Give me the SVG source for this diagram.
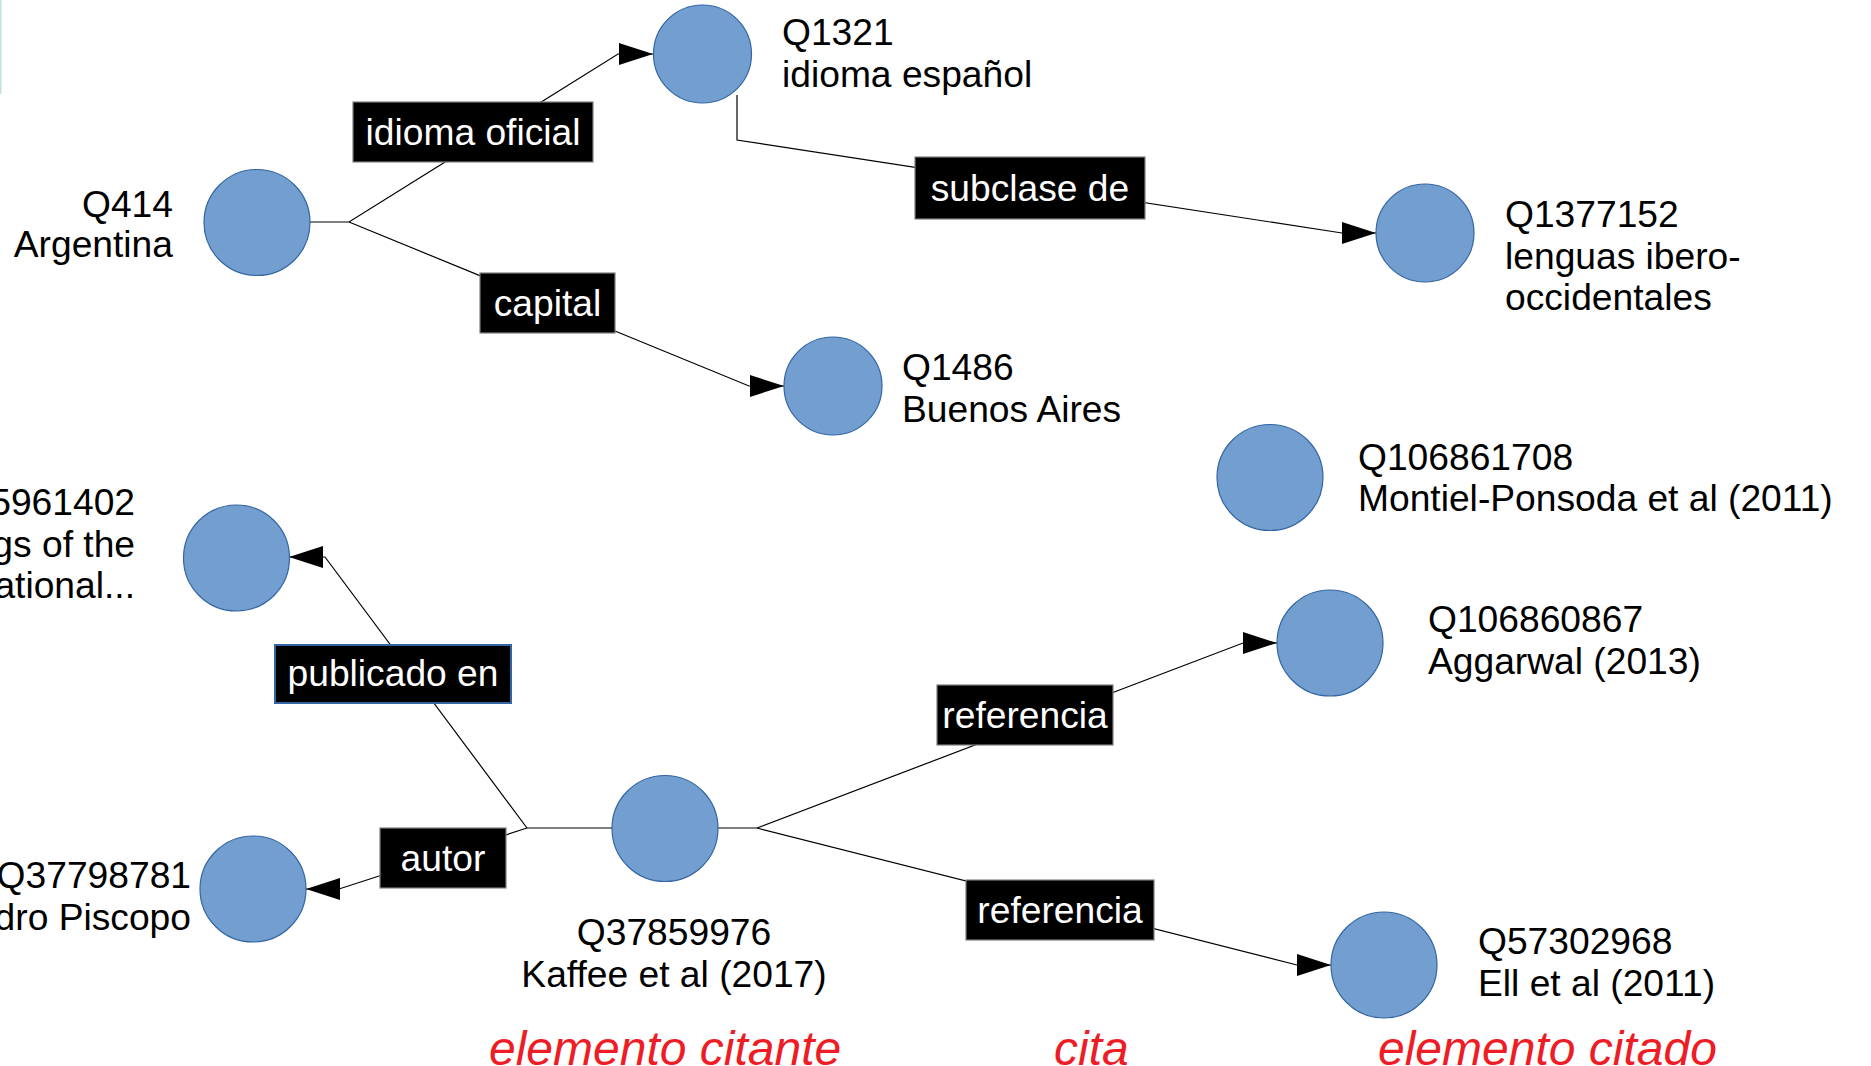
<svg xmlns="http://www.w3.org/2000/svg" width="1871" height="1066" viewBox="0 0 1871 1066">
<style>
  .node { fill: #729fcf; stroke: #3465a4; stroke-width: 1.2; }
  .t { font-family: "Liberation Sans", Arial, sans-serif; font-size: 37.2px; fill: #000; }
  .end { text-anchor: end; }
  .mid { text-anchor: middle; }
  .lbl { fill: #000; stroke: #7f7f7f; stroke-width: 1.2; }
  .lbl2 { fill: #000; stroke: #3465a4; stroke-width: 2; }
  .lt { font-family: "Liberation Sans", Arial, sans-serif; font-size: 37.2px; fill: #fff; text-anchor: middle; }
  .conn { fill: none; stroke: #000; stroke-width: 1.2; }
  .red { font-family: "Liberation Sans", Arial, sans-serif; font-size: 48px; font-style: italic; fill: #ee1c25; }
</style>
<defs>
  <marker id="arr" markerUnits="userSpaceOnUse" markerWidth="36" markerHeight="24" refX="34" refY="11" orient="auto" overflow="visible">
    <path d="M0,0 L34,11 L0,22 Z" fill="#000"/>
  </marker>
</defs>
<rect x="0" y="0" width="1871" height="1066" fill="#fff"/>
<rect x="0" y="0" width="1.5" height="94" fill="#bfe3d6"/>

<g id="connectors">
  <path class="conn" d="M310,222 L349,222 L618,54 L653,54" marker-end="url(#arr)"/>
  <path class="conn" d="M349,222 L749,386 L784,386" marker-end="url(#arr)"/>
  <path class="conn" d="M737,95 L737,140 L1342,233 L1376,233" marker-end="url(#arr)"/>
  <path class="conn" d="M612,828 L527,828 L325,557 L289,557" marker-end="url(#arr)"/>
  <path class="conn" d="M527,828 L339,889 L306,889" marker-end="url(#arr)"/>
  <path class="conn" d="M718,828 L757,828 L1243,643 L1277,643" marker-end="url(#arr)"/>
  <path class="conn" d="M757,828 L1297,965 L1331,965" marker-end="url(#arr)"/>
  <g id="label-idioma-oficial">
    <rect class="lbl" x="353" y="102" width="240" height="60"/>
    <text class="lt" x="473" y="145">idioma oficial</text>
  </g>
  <g id="label-capital">
    <rect class="lbl" x="480" y="273" width="135" height="60"/>
    <text class="lt" x="547.5" y="316">capital</text>
  </g>
  <g id="label-subclase">
    <rect class="lbl" x="915" y="157" width="230" height="62"/>
    <text class="lt" x="1030" y="201">subclase de</text>
  </g>
  <g id="label-publicado">
    <rect class="lbl2" x="275" y="645" width="236" height="58"/>
    <text class="lt" x="393" y="686">publicado en</text>
  </g>
  <g id="label-autor">
    <rect class="lbl" x="380" y="828" width="126" height="60"/>
    <text class="lt" x="443" y="871">autor</text>
  </g>
  <g id="label-referencia1">
    <rect class="lbl" x="937" y="685" width="176" height="60"/>
    <text class="lt" x="1025" y="728">referencia</text>
  </g>
  <g id="label-referencia2">
    <rect class="lbl" x="966" y="880" width="188" height="60"/>
    <text class="lt" x="1060" y="923">referencia</text>
  </g>
</g>

<g id="n-Q414">
  <circle class="node" cx="257" cy="222.5" r="53"/>
  <text class="t end" x="173" y="217">Q414</text>
  <text class="t end" x="173" y="257">Argentina</text>
</g>
<g id="n-Q1321">
  <circle class="node" cx="702.5" cy="54" r="49"/>
  <text class="t" x="782" y="45">Q1321</text>
  <text class="t" x="782" y="87">idioma español</text>
</g>
<g id="n-Q1377152">
  <circle class="node" cx="1425" cy="233" r="49"/>
  <text class="t" x="1505" y="227">Q1377152</text>
  <text class="t" x="1505" y="269">lenguas ibero-</text>
  <text class="t" x="1505" y="310">occidentales</text>
</g>
<g id="n-Q1486">
  <circle class="node" cx="833" cy="386" r="49"/>
  <text class="t" x="902" y="380">Q1486</text>
  <text class="t" x="902" y="422">Buenos Aires</text>
</g>
<g id="n-Q106861708">
  <circle class="node" cx="1270" cy="477.5" r="53"/>
  <text class="t" x="1358" y="470">Q106861708</text>
  <text class="t" x="1358" y="511">Montiel-Ponsoda et al (2011)</text>
</g>
<g id="n-proceedings">
  <circle class="node" cx="236.5" cy="558" r="53"/>
  <text class="t end" x="135" y="515">5961402</text>
  <text class="t end" x="135" y="557">gs of the</text>
  <text class="t end" x="135" y="598">ational...</text>
</g>
<g id="n-Q106860867">
  <circle class="node" cx="1330" cy="643" r="53"/>
  <text class="t" x="1428" y="632">Q106860867</text>
  <text class="t" x="1428" y="674">Aggarwal (2013)</text>
</g>
<g id="n-Q37798781">
  <circle class="node" cx="253" cy="889" r="53"/>
  <text class="t end" x="191" y="888">Q37798781</text>
  <text class="t end" x="191" y="930">dro Piscopo</text>
</g>
<g id="n-Q37859976">
  <circle class="node" cx="665" cy="828.5" r="53"/>
  <text class="t mid" x="674" y="945">Q37859976</text>
  <text class="t mid" x="674" y="987">Kaffee et al (2017)</text>
</g>
<g id="n-Q57302968">
  <circle class="node" cx="1384" cy="965" r="53"/>
  <text class="t" x="1478" y="954">Q57302968</text>
  <text class="t" x="1478" y="996">Ell et al (2011)</text>
</g>

<g id="captions">
  <text class="red" x="489" y="1065">elemento citante</text>
  <text class="red" x="1054" y="1065">cita</text>
  <text class="red" x="1378" y="1065">elemento citado</text>
</g>
</svg>
